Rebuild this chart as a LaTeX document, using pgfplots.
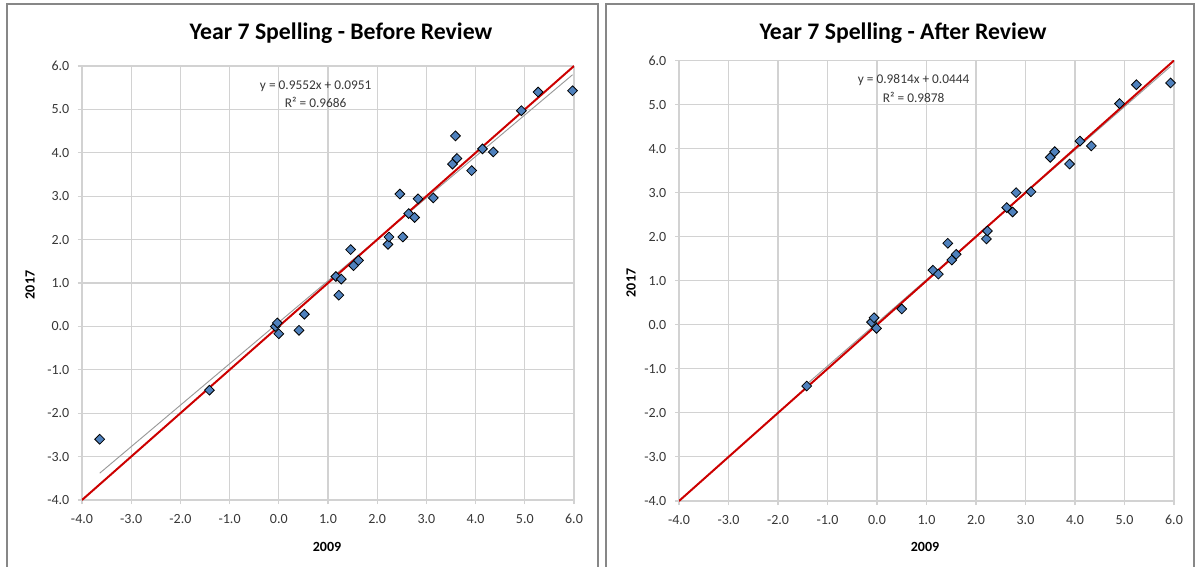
\documentclass[border=0pt]{standalone}
\usepackage{pgfplots}
\pgfplotsset{compat=1.18}
\usepackage{fontspec}
\setmainfont{Carlito}

\definecolor{mkblue}{RGB}{79,129,189}
\definecolor{fitred}{RGB}{204,0,0}
\definecolor{gridgray}{RGB}{210,210,210}
\definecolor{framegray}{RGB}{135,135,135}
\definecolor{txtgray}{RGB}{55,55,55}

\pgfplotsset{
  spell/.style={
    scale only axis,
    xmin=-4, xmax=6, ymin=-4, ymax=6,
    xtick={-4,-3,...,6}, ytick={-4,-3,...,6},
    axis lines=left,
    axis line style={-, draw=gridgray, line width=1pt},
    major grid style={draw=gridgray, line width=0.8pt},
    grid=major,
    tick align=outside,
    major tick length=3pt,
    tick style={draw=gridgray, line width=0.8pt},
    /pgf/number format/.cd, fixed, fixed zerofill, precision=1, assume math mode=true,
    /pgfplots/.cd,
    tick label style={font=\fontsize{10.5}{12}\selectfont, text=txtgray},
    xticklabel style={yshift=-4pt},
    yticklabel style={xshift=-3pt},
  },
  pts/.style={only marks, mark=square*, mark size=2.6pt,
    mark options={rotate=45, fill=mkblue, draw=black, line width=0.6pt}},
}

\begin{document}
\begin{tikzpicture}
\useasboundingbox (0,0) rectangle (896.25pt,-425.25pt);
% chart frames
\draw[framegray, line width=1.1pt] (5.25pt,-425.25pt) -- (5.25pt,-3pt) -- (448.5pt,-3pt) -- (448.5pt,-425.25pt);
\draw[framegray, line width=1.1pt] (454.5pt,-425.25pt) -- (454.5pt,-3pt) -- (895.5pt,-3pt) -- (895.5pt,-425.25pt);

% before review
\begin{axis}[spell, at={(61.5pt,-375pt)}, anchor=south west, width=369pt, height=325.5pt]
\addplot[color=gray!80, line width=0.7pt] coordinates {(-3.64,-3.382) (5.97,5.798)};
\addplot[color=fitred, line width=1.5pt] coordinates {(-4,-4) (6,6)};
\addplot[pts] coordinates {
(-3.64,-2.60) (-1.41,-1.47) (-0.07,0.00) (-0.03,0.08) (0.00,-0.17)
(0.41,-0.09) (0.52,0.28) (1.16,1.15) (1.27,1.09) (1.22,0.72)
(1.46,1.77) (1.52,1.40) (1.62,1.52) (2.22,1.89) (2.24,2.06)
(2.52,2.06) (2.46,3.05) (2.64,2.60) (2.76,2.51) (2.83,2.94)
(3.14,2.96) (3.53,3.74) (3.59,4.39) (3.62,3.87) (3.92,3.59)
(4.14,4.09) (4.36,4.02) (4.93,4.97) (5.27,5.40) (5.97,5.43)
};
\node[font=\fontsize{10}{12}\selectfont, text=txtgray] at (axis cs:0.75,5.54) {y = 0.9552x + 0.0951};
\node[font=\fontsize{10}{12}\selectfont, text=txtgray] at (axis cs:0.75,5.15) {R² = 0.9686};
\end{axis}

% after review
\begin{axis}[spell, at={(509.25pt,-375.75pt)}, anchor=south west, width=371.25pt, height=330.4pt]
\addplot[color=gray!80, line width=0.7pt] coordinates {(-1.42,-1.349) (5.93,5.864)};
\addplot[color=fitred, line width=1.5pt] coordinates {(-4,-4) (6,6)};
\addplot[pts] coordinates {
(-1.42,-1.39) (-0.11,0.06) (-0.06,0.16) (-0.01,-0.08) (0.50,0.36)
(1.13,1.24) (1.24,1.15) (1.43,1.85) (1.51,1.47) (1.60,1.60)
(2.21,1.95) (2.23,2.13) (2.62,2.66) (2.74,2.56) (2.81,3.00)
(3.11,3.02) (3.50,3.80) (3.59,3.93) (3.89,3.65) (4.10,4.17)
(4.33,4.06) (4.90,5.02) (5.24,5.45) (5.93,5.49)
};
\node[font=\fontsize{10}{12}\selectfont, text=txtgray] at (axis cs:0.74,5.56) {y = 0.9814x + 0.0444};
\node[font=\fontsize{10}{12}\selectfont, text=txtgray] at (axis cs:0.74,5.16) {R² = 0.9878};
\end{axis}

% titles and axis labels
\node[font=\fontsize{17.8}{20}\selectfont\bfseries] at (255.75pt,-24.75pt) {Year 7 Spelling - Before Review};
\node[font=\fontsize{17.8}{20}\selectfont\bfseries] at (677.25pt,-24.75pt) {Year 7 Spelling - After Review};
\node[font=\fontsize{10.5}{12}\selectfont\bfseries, rotate=90] at (22.5pt,-213.75pt) {2017};
\node[font=\fontsize{10.5}{12}\selectfont\bfseries, rotate=90] at (473.25pt,-212.25pt) {2017};
\node[font=\fontsize{10.5}{12}\selectfont\bfseries] at (245.25pt,-410.25pt) {2009};
\node[font=\fontsize{10.5}{12}\selectfont\bfseries] at (693.75pt,-410.25pt) {2009};
\end{tikzpicture}
\end{document}
